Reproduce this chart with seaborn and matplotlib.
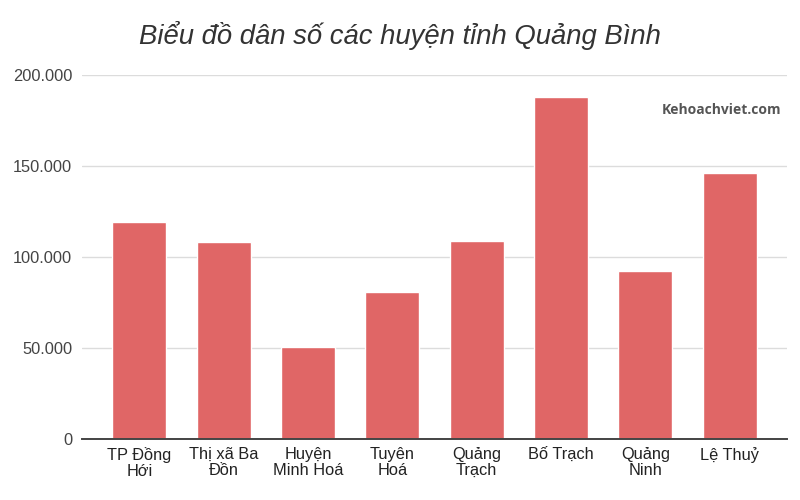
import numpy as np
import pandas as pd
import seaborn as sns
import matplotlib.pyplot as plt
from matplotlib.ticker import FuncFormatter

huyen = ["TP Đồng\nHới", "Thị xã Ba\nĐồn", "Huyện\nMinh Hoá", "Tuyên\nHoá",
         "Quảng\nTrạch", "Bố Trạch", "Quảng\nNinh", "Lệ Thuỷ"]
dan_so = [119000, 108000, 50500, 80800, 108600, 187900, 92100, 146200]

df = pd.DataFrame({"huyen": huyen, "dan_so": dan_so})

sns.set_theme(style="white")
plt.rcParams['font.family'] = ['Liberation Sans', 'DejaVu Sans']

fig = plt.figure(figsize=(8, 5), dpi=100)
ax = fig.add_axes([0.1025, 0.1226, 0.8815, 0.728])

sns.barplot(data=df, x="huyen", y="dan_so", color="#e06666", saturation=1,
            width=0.64, ax=ax, zorder=3)

ax.set_ylim(0, 200000)
ax.set_xlim(-0.68, 7.68)
ax.set_yticks([0, 50000, 100000, 150000, 200000])
ax.yaxis.set_major_formatter(FuncFormatter(lambda v, p: f"{int(v):,}".replace(",", ".")))
ax.grid(axis="y", color="#dcdcdc", linewidth=1, zorder=0)
ax.grid(axis="x", visible=False)
ax.set_xlabel("")
ax.set_ylabel("")
for s in ["top", "right", "left"]:
    ax.spines[s].set_visible(False)
ax.spines["bottom"].set_color("#444444")
ax.spines["bottom"].set_linewidth(1.4)
ax.spines["bottom"].set_zorder(4)
ax.tick_params(axis="y", length=0, pad=7, labelsize=11.8, labelcolor="#444444")
ax.tick_params(axis="x", length=0, pad=6, labelsize=11.8, labelcolor="#222222")
for lbl in ax.get_xticklabels():
    lbl.set_linespacing(1.05)

fig.text(0.5, 0.93, "Biểu đồ dân số các huyện tỉnh Quảng Bình", ha="center", va="center",
         fontsize=19.8, style="italic", color="#333333")
fig.text(0.976, 0.78, "Kehoachviet.com", ha="right", va="center", fontsize=10,
         fontweight="bold", color="#555555", family=["Open Sans", "DejaVu Sans"])

fig.savefig("out.png", dpi=100)
